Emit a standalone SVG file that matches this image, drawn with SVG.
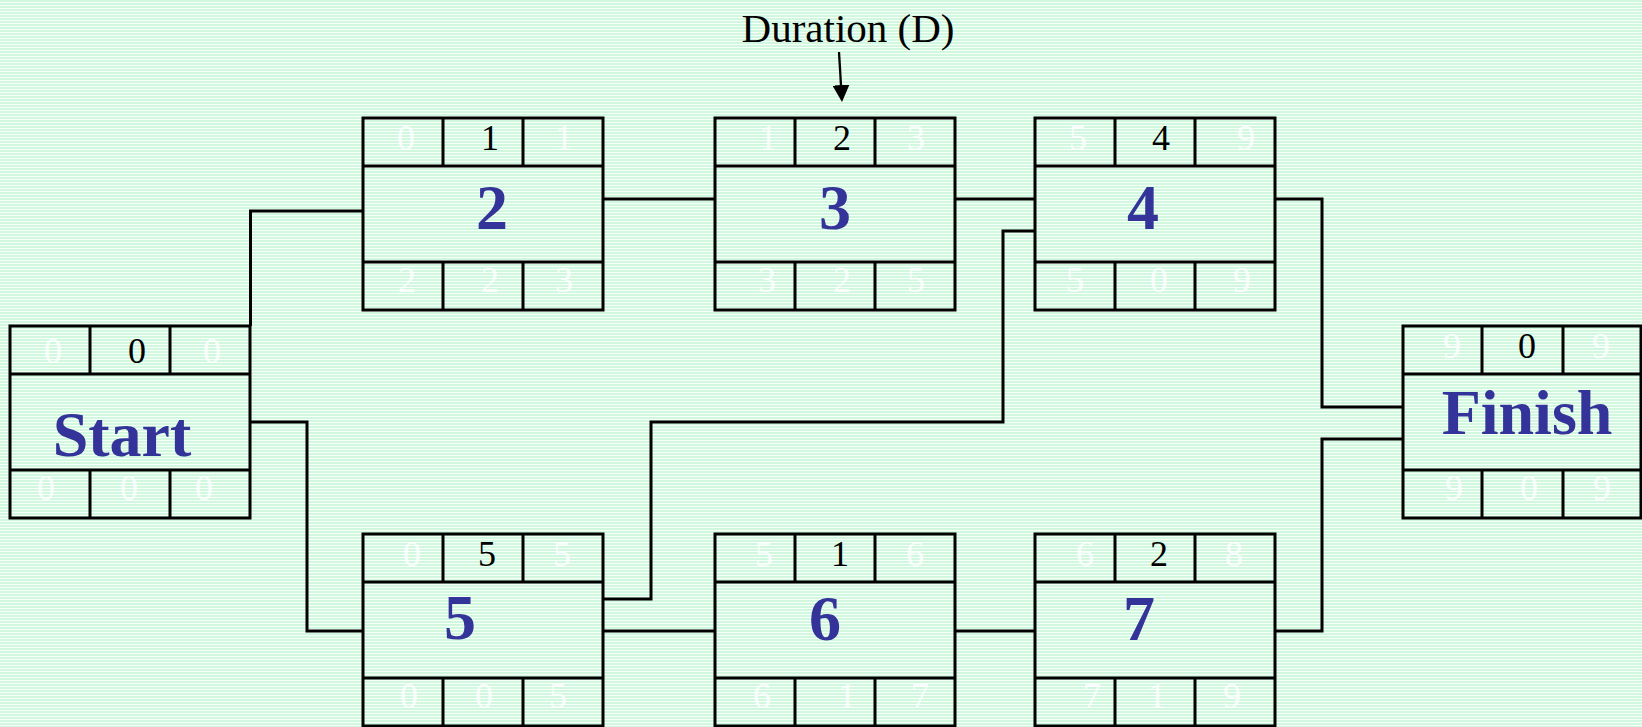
<svg xmlns="http://www.w3.org/2000/svg" width="1642" height="727" viewBox="0 0 1642 727">
<defs>
<pattern id="bg" width="8" height="3" patternUnits="userSpaceOnUse">
<rect width="8" height="3" fill="#f7fffa"/>
<rect width="8" height="2" fill="#d2f7df"/>
</pattern>
<marker id="ah" viewBox="0 0 10 10" refX="7" refY="5" markerUnits="userSpaceOnUse" markerWidth="17" markerHeight="17" orient="auto">
<path d="M0,0 L10,5 L0,10 z" fill="#000"/>
</marker>
<style>
.box{fill:none;stroke:#000;stroke-width:3}
.grid{fill:none;stroke:#000;stroke-width:3}
.v{fill:#fff;fill-opacity:0.85;font-family:"Liberation Serif","Times New Roman",serif;font-size:36px;text-anchor:middle}
.d{fill:#000;fill-opacity:1}
.lbl{fill:#333399;font-family:"Liberation Serif","Times New Roman",serif;font-weight:bold;font-size:64px;text-anchor:middle}
.conn{fill:none;stroke:#000;stroke-width:3}
.note{fill:#000;font-family:"Liberation Serif","Times New Roman",serif;font-size:41px;text-anchor:middle}
</style>
</defs>
<rect width="1642" height="727" fill="url(#bg)"/>

<g id="connectors">
<path class="conn" d="M250.5 326 V211 H363"/>
<path class="conn" d="M250 422 H307 V631 H363"/>
<path class="conn" d="M603 199 H715"/>
<path class="conn" d="M955 199 H1035"/>
<path class="conn" d="M603 599 H651 V422 H1003 V231 H1035"/>
<path class="conn" d="M603 631 H715"/>
<path class="conn" d="M955 631 H1035"/>
<path class="conn" d="M1275 199 H1322 V407 H1403"/>
<path class="conn" d="M1275 631 H1322 V439 H1403"/>
<line x1="839" y1="52" x2="841.7" y2="97" stroke="#000" stroke-width="2.3" marker-end="url(#ah)"/>
</g>

<g id="duration-label">
<text class="note" x="848" y="42">Duration (D)</text>
</g>

<g id="node-start">
<rect class="box" x="10" y="326" width="240" height="192"/>
<path class="grid" d="M10 374H250M10 470H250M90 326V374M170 326V374M90 470V518M170 470V518"/>
<text class="v" x="53" y="363">0</text><text class="v d" x="137" y="363">0</text><text class="v" x="212" y="363">0</text>
<text class="v" x="46" y="500">0</text><text class="v" x="129" y="500">0</text><text class="v" x="204" y="500">0</text>
<text class="lbl" x="122" y="456">Start</text>
</g>

<g id="node-2">
<rect class="box" x="363" y="118" width="240" height="192"/>
<path class="grid" d="M363 166H603M363 262H603M443 118V166M523 118V166M443 262V310M523 262V310"/>
<text class="v" x="406" y="150">0</text><text class="v d" x="490" y="150">1</text><text class="v" x="564" y="150">1</text>
<text class="v" x="407" y="292">2</text><text class="v" x="490" y="292">2</text><text class="v" x="564" y="292">3</text>
<text class="lbl" x="492" y="229">2</text>
</g>

<g id="node-3">
<rect class="box" x="715" y="118" width="240" height="192"/>
<path class="grid" d="M715 166H955M715 262H955M795 118V166M875 118V166M795 262V310M875 262V310"/>
<text class="v" x="768" y="150">1</text><text class="v d" x="842" y="150">2</text><text class="v" x="916" y="150">3</text>
<text class="v" x="767" y="292">3</text><text class="v" x="842" y="292">2</text><text class="v" x="916" y="292">5</text>
<text class="lbl" x="835" y="229">3</text>
</g>

<g id="node-4">
<rect class="box" x="1035" y="118" width="240" height="192"/>
<path class="grid" d="M1035 166H1275M1035 262H1275M1115 118V166M1195 118V166M1115 262V310M1195 262V310"/>
<text class="v" x="1078" y="150">5</text><text class="v d" x="1161" y="150">4</text><text class="v" x="1246" y="150">9</text>
<text class="v" x="1075" y="292">5</text><text class="v" x="1159" y="292">0</text><text class="v" x="1242" y="292">9</text>
<text class="lbl" x="1143" y="229">4</text>
</g>

<g id="node-5">
<rect class="box" x="363" y="534" width="240" height="192"/>
<path class="grid" d="M363 582H603M363 678H603M443 534V582M523 534V582M443 678V726M523 678V726"/>
<text class="v" x="412" y="566">0</text><text class="v d" x="487" y="566">5</text><text class="v" x="562" y="566">5</text>
<text class="v" x="409" y="708">0</text><text class="v" x="484" y="708">0</text><text class="v" x="558" y="708">5</text>
<text class="lbl" x="460" y="639">5</text>
</g>

<g id="node-6">
<rect class="box" x="715" y="534" width="240" height="192"/>
<path class="grid" d="M715 582H955M715 678H955M795 534V582M875 534V582M795 678V726M875 678V726"/>
<text class="v" x="764" y="566">5</text><text class="v d" x="840" y="566">1</text><text class="v" x="915" y="566">6</text>
<text class="v" x="762" y="708">6</text><text class="v" x="847" y="708">1</text><text class="v" x="920" y="708">7</text>
<text class="lbl" x="825" y="640">6</text>
</g>

<g id="node-7">
<rect class="box" x="1035" y="534" width="240" height="192"/>
<path class="grid" d="M1035 582H1275M1035 678H1275M1115 534V582M1195 534V582M1115 678V726M1195 678V726"/>
<text class="v" x="1085" y="566">6</text><text class="v d" x="1159" y="566">2</text><text class="v" x="1234" y="566">8</text>
<text class="v" x="1092" y="708">7</text><text class="v" x="1157" y="708">1</text><text class="v" x="1232" y="708">9</text>
<text class="lbl" x="1139" y="640">7</text>
</g>

<g id="node-finish">
<rect class="box" x="1403" y="326" width="238" height="192"/>
<path class="grid" d="M1403 374H1641M1403 470H1641M1482 326V374M1563 326V374M1482 470V518M1563 470V518"/>
<text class="v" x="1452" y="358">9</text><text class="v d" x="1527" y="358">0</text><text class="v" x="1601" y="358">9</text>
<text class="v" x="1454" y="500">9</text><text class="v" x="1529" y="500">0</text><text class="v" x="1602" y="500">9</text>
<text class="lbl" x="1527" y="434">Finish</text>
</g>
</svg>
